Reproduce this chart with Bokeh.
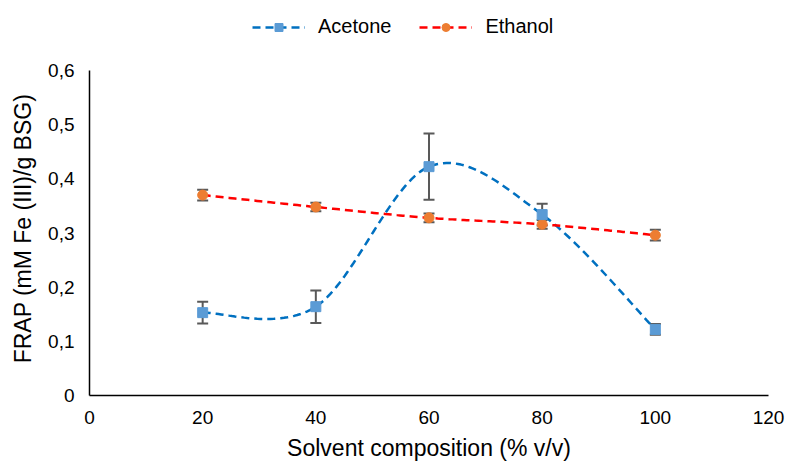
import numpy as np
from bokeh.plotting import figure
from bokeh.models import (ColumnDataSource, Whisker, TeeHead, Legend, LegendItem,
                          FixedTicker, Range1d)
from bokeh.embed import file_html
from bokeh.resources import INLINE

x_vals = [20, 40, 60, 80, 100]
acetone = [0.153, 0.164, 0.4225, 0.334, 0.122]
acetone_err = [0.020, 0.030, 0.061, 0.020, 0.010]
ethanol = [0.370, 0.348, 0.328, 0.316, 0.296]
ethanol_err = [0.010, 0.008, 0.008, 0.008, 0.010]
x_ticks = [0, 20, 40, 60, 80, 100, 120]
y_ticks = [0, 0.1, 0.2, 0.3, 0.4, 0.5, 0.6]
y_tick_labels = ["0", "0,1", "0,2", "0,3", "0,4", "0,5", "0,6"]
Y_MAX = 0.6


def smooth(xs, ys, n=40):
    # Excel-like smoothed line (Catmull-Rom / Bezier) through the data points
    P = np.column_stack([xs, ys]).astype(float)
    m = len(P)
    out = []
    for i in range(m - 1):
        p0 = P[i - 1] if i > 0 else P[i]
        p1 = P[i]
        p2 = P[i + 1]
        p3 = P[i + 2] if i + 2 < m else P[i + 1]
        b1 = p1 + (p2 - p0) / 6.0
        b2 = p2 - (p3 - p1) / 6.0
        t = np.linspace(0, 1, n)[:, None]
        seg = ((1 - t) ** 3) * p1 + 3 * ((1 - t) ** 2) * t * b1 + 3 * (1 - t) * t ** 2 * b2 + t ** 3 * p2
        out.append(seg if i == 0 else seg[1:])
    arr = np.vstack(out)
    return arr[:, 0], arr[:, 1]


FONT = "Liberation Sans"
W, H = 794, 464
B_LEFT, B_RIGHT, B_TOP, B_BOTTOM = 89, 26, 10, 69
PLOT_TOP_PX = 70          # pixel row where the 0.6 line sits
frame_h = H - B_TOP - B_BOTTOM
axis_h = H - B_BOTTOM - PLOT_TOP_PX
y_end = Y_MAX * frame_h / axis_h   # extra room above 0.6 for the legend

p = figure(width=W, height=H, output_backend="svg", toolbar_location=None, title=None,
           x_range=Range1d(0, 120), y_range=Range1d(0, y_end),
           min_border_left=B_LEFT, min_border_right=B_RIGHT,
           min_border_top=B_TOP, min_border_bottom=B_BOTTOM)
p.outline_line_color = None
p.xgrid.grid_line_color = None
p.ygrid.grid_line_color = None

for ax in (p.xaxis[0], p.yaxis[0]):
    ax.axis_line_color = "black"
    ax.axis_line_width = 1.5
    ax.major_tick_line_color = None
    ax.minor_tick_line_color = None
    ax.major_tick_out = 0
    ax.major_tick_in = 0
    ax.minor_tick_out = 0
    ax.major_label_text_font = FONT
    ax.major_label_text_font_size = "19px"
    ax.major_label_text_color = "#000000"
    ax.axis_label_text_font = FONT
    ax.axis_label_text_font_size = "23px"
    ax.axis_label_text_font_style = "normal"
    ax.axis_label_text_color = "#000000"

p.xaxis.ticker = FixedTicker(ticks=x_ticks)
p.yaxis.ticker = FixedTicker(ticks=y_ticks)
p.yaxis.bounds = (0, Y_MAX)
p.yaxis.major_label_overrides = {t: l for t, l in zip(y_ticks, y_tick_labels)}
p.xaxis.axis_label = "Solvent composition (% v/v)"
# trailing no-break spaces keep the title centred on the 0-0.6 axis, not the taller frame
p.yaxis.axis_label = "FRAP (mM Fe (III)/g BSG)" + "\u00a0" * 8
p.xaxis.major_label_standoff = 15
p.yaxis.major_label_standoff = 15
p.xaxis.axis_label_standoff = 8
p.yaxis.axis_label_standoff = 9

# smoothed lines
ax_s, ay_s = smooth(x_vals, acetone)
ex_s, ey_s = smooth(x_vals, ethanol)
l_ac = p.line(ax_s, ay_s, line_color="#0070C0", line_width=2.5, line_dash="8 5")
l_et = p.line(ex_s, ey_s, line_color="#FF0000", line_width=2.5, line_dash="8 5")

# error bars
src_ac = ColumnDataSource(dict(x=x_vals, y=acetone,
                               lo=[v - e for v, e in zip(acetone, acetone_err)],
                               hi=[v + e for v, e in zip(acetone, acetone_err)]))
src_et = ColumnDataSource(dict(x=x_vals, y=ethanol,
                               lo=[v - e for v, e in zip(ethanol, ethanol_err)],
                               hi=[v + e for v, e in zip(ethanol, ethanol_err)]))
for src in (src_et, src_ac):
    w = Whisker(source=src, base="x", lower="lo", upper="hi",
                line_color="#595959", line_width=2,
                upper_head=TeeHead(size=11, line_color="#595959", line_width=2),
                lower_head=TeeHead(size=11, line_color="#595959", line_width=2))
    p.add_layout(w)

m_et = p.scatter("x", "y", source=src_et, marker="circle", size=10,
                 fill_color="#ED7D31", line_color="#ED7D31")
m_ac = p.scatter("x", "y", source=src_ac, marker="square", size=10,
                 fill_color="#5B9BD5", line_color="#5B9BD5")

legend = Legend(items=[LegendItem(label="Acetone", renderers=[l_ac, m_ac]),
                       LegendItem(label="Ethanol", renderers=[l_et, m_et])],
                orientation="horizontal", location=(163, frame_h - 15 - 13),
                label_text_font=FONT, label_text_font_size="20px",
                label_text_color="#000000",
                glyph_width=53, glyph_height=20, label_standoff=13, spacing=28,
                padding=0, margin=0, border_line_color=None,
                background_fill_alpha=0)
p.add_layout(legend, "center")

open("out.html", "w").write(file_html(p, INLINE))
